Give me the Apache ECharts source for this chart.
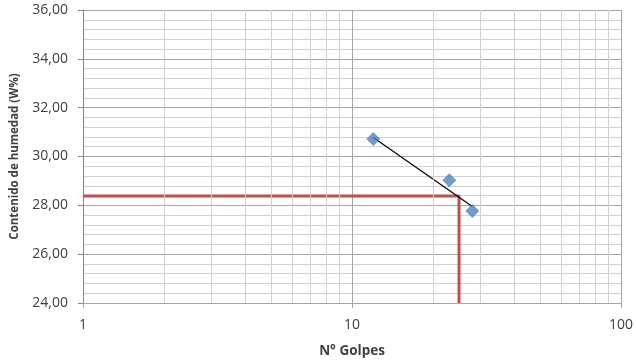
<!DOCTYPE html>
<html><head><meta charset="utf-8">
<script src="https://cdn.jsdelivr.net/npm/echarts@6/dist/echarts.min.js"></script>
<style>html,body{margin:0;padding:0;background:#fff}#c{width:636px;height:364px}</style>
</head><body><div id="c"></div>
<script>
const golpes = [12, 23, 28];
const humedad = [30.72, 29.03, 27.77];
const trendX = [12, 28];
const trendY = [30.78, 27.95];
const llGolpes = 25;
const llHumedad = 28.38;
const xMin = 1, xMax = 100;
const xMinorGrid = [2, 3, 4, 5, 6, 7, 8, 9, 20, 30, 40, 50, 60, 70, 80, 90];
const yMin = 24, yMax = 36, yStep = 2;

const chart = echarts.init(document.getElementById('c'));
const font = 'Open Sans';
chart.setOption({
  animation: false,
  grid: {left: 83, right: 15, top: 10, bottom: 61, containLabel: false, outerBoundsMode: 'none'},
  xAxis: {
    type: 'log', logBase: 10, min: xMin, max: xMax,
    name: 'N° Golpes', nameLocation: 'middle', nameGap: 41,
    nameTextStyle: {fontFamily: font, fontWeight: 'bold', fontSize: 13.5, color: '#404040'},
    axisLine: {show: true, lineStyle: {color: '#a6a6a6', width: 1}},
    axisTick: {show: true, length: 5, lineStyle: {color: '#a6a6a6'}},
    axisLabel: {fontFamily: font, fontSize: 14, color: '#404040', margin: 15},
    splitLine: {show: true, lineStyle: {color: '#a6a6a6', width: 1}},
    minorSplitLine: {show: false}
  },
  yAxis: {
    type: 'value', min: yMin, max: yMax, interval: yStep,
    name: 'Contenido de humedad (W%)', nameLocation: 'middle', nameGap: 62,
    nameTextStyle: {fontFamily: font, fontWeight: 'bold', fontSize: 11.5, color: '#404040'},
    axisLine: {show: true, lineStyle: {color: '#868686', width: 1}},
    axisTick: {show: true, length: 5, lineStyle: {color: '#868686'}},
    axisLabel: {fontFamily: font, fontSize: 14, color: '#404040', margin: 15,
      formatter: v => v.toFixed(2).replace('.', ',')},
    splitLine: {show: true, lineStyle: {color: '#a6a6a6', width: 1}},
    minorTick: {show: false, splitNumber: 5},
    minorSplitLine: {show: true, lineStyle: {color: '#d0d0d0', width: 1}}
  },
  series: [
    {
      type: 'line', data: [], silent: true,
      markLine: {
        silent: true, symbol: 'none', label: {show: false}, animation: false,
        lineStyle: {color: '#d0d0d0', width: 1, type: 'solid'},
        data: xMinorGrid.map(v => ({xAxis: v}))
      }, z: 1
    },
    {
      type: 'line', data: [[xMin, llHumedad], [llGolpes, llHumedad], [llGolpes, yMin]],
      symbol: 'none', lineStyle: {color: '#c0504d', width: 3}, z: 3
    },
    {
      type: 'line', data: trendX.map((x, i) => [x, trendY[i]]),
      symbol: 'none', lineStyle: {color: '#000', width: 1.2}, z: 4
    },
    {
      type: 'scatter', data: golpes.map((x, i) => [x, humedad[i]]),
      symbol: 'diamond', symbolSize: 14, itemStyle: {color: '#4f81bd'}, z: 5
    }
  ]
});
</script></body></html>
